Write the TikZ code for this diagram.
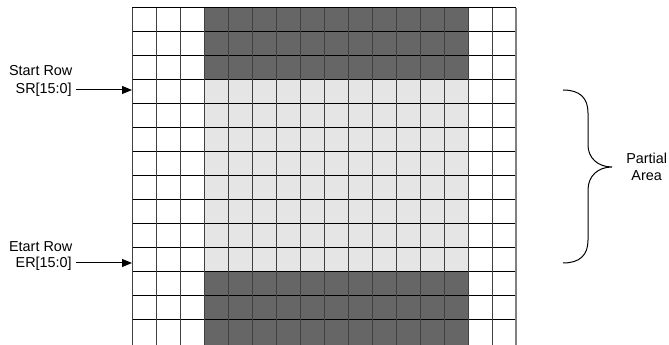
\documentclass[tikz,border=0pt]{standalone}
\usepackage{fontspec}
\setmainfont{Liberation Sans}
\usetikzlibrary{positioning, calc, arrows.meta}

\begin{document}
\begin{tikzpicture}[x=0.75pt, y=-0.75pt,
    every node/.style={font=\fontsize{10.8}{13}\selectfont, inner sep=0pt},
    hline/.style={line width=0.75pt, black},
    vline/.style={line width=0.75pt, black!75},
    pointer/.style={line width=0.75pt, -{Triangle[length=7.5pt, width=6pt]}}]

    % Parameters
    \def\cell{24} % size of one cell
    \def\xo{132}  % left edge of the grid
    \def\yo{8}    % top edge of the grid

    \useasboundingbox (0,0) rectangle (669,345);

    % Shaded rows
    \fill[black!60] (\xo+3*\cell,\yo) rectangle (\xo+14*\cell,\yo+3*\cell);
    \fill[black!10] (\xo+3*\cell,\yo+3*\cell) rectangle (\xo+14*\cell,\yo+11*\cell);
    \fill[black!60] (\xo+3*\cell,\yo+11*\cell) rectangle (\xo+14*\cell,345);

    % Grid lines
    \foreach \r in {0,...,13} {
        \draw[hline] (\xo,\yo+\r*\cell) -- (\xo+16*\cell,\yo+\r*\cell);
    }
    \foreach \c in {0,...,15} {
        \draw[vline] (\xo+\c*\cell,\yo) -- (\xo+\c*\cell,345);
    }
    \draw[line width=1.5pt, black!50] (\xo+16*\cell,\yo) -- (\xo+16*\cell,345);

    % Row pointers
    \coordinate (sr-in) at (\xo,90);
    \coordinate (er-in) at (\xo,263);

    \node[anchor=east] (sr) at (72,90) {SR[15:0]};
    \node (sr-title) at ($(sr.center)+(-3,-19)$) {Start Row};
    \node[anchor=east] (er) at (72,264) {ER[15:0]};
    \node (er-title) at ($(er.center)+(-3,-17)$) {Etart Row};

    \draw[pointer] ($(sr.east)+(4,0)$) -- (sr-in);
    \draw[pointer] ($(er.east)+(4,-1)$) -- (er-in);

    % Brace
    \draw[line width=0.75pt] (563,90) .. controls (580,90) and (588,98) .. (588,113)
        -- (588,145) .. controls (588,158) and (598,167) .. (612,167)
        .. controls (598,167) and (588,176) .. (588,190)
        -- (588,240) .. controls (588,255) and (580,263) .. (563,263);

    \node[align=center, anchor=west] (area) at (626,167) {Partial\\Area};

\end{tikzpicture}
\end{document}
